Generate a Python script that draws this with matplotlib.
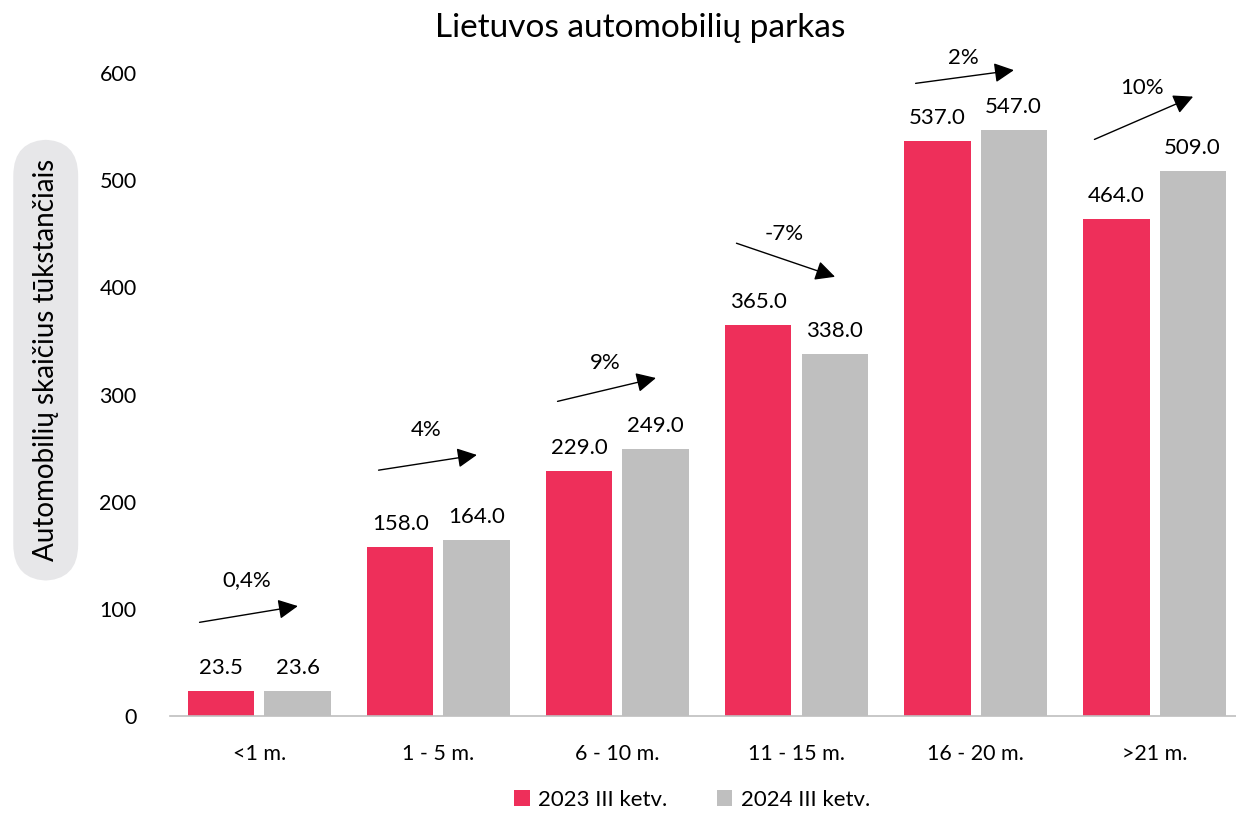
import numpy as np
import matplotlib.pyplot as plt

plt.rcParams['font.family'] = ['Lato', 'DejaVu Sans']

# Duomenys
categories = ['<1 m.', '1 - 5 m.', '6 - 10 m.', '11 - 15 m.', '16 - 20 m.', '>21 m.']
values_2023 = [23.5, 158.0, 229.0, 365.0, 537.0, 464.0]
values_2024 = [23.6, 164.0, 249.0, 338.0, 547.0, 509.0]
series_names = ['2023 III ketv.', '2024 III ketv.']
change_labels = ['0,4%', '4%', '9%', '-7%', '2%', '10%']

# rodyklių pradžia / pabaiga (y reikšmės) ir teksto aukštis
arrow_y0 = [87, 229, 293, 442, 590, 537]
arrow_y1 = [103, 244, 316, 409, 603, 579]
text_y = [127, 267, 329, 450, 614, 586]

red = '#ee2f5a'
gray = '#bfbfbf'

fig = plt.figure(figsize=(12.36, 8.13), dpi=100)
ax = fig.add_axes([0.1375, 0.1193, 0.869, 0.7909])

x = np.arange(len(categories))
w = 0.37
ax.bar(x - 0.213, values_2023, w, color=red, label=series_names[0])
ax.bar(x + 0.213, values_2024, w, color=gray, label=series_names[1])

for i in range(len(categories)):
    ax.text(x[i] - 0.213, values_2023[i] + 12, f'{values_2023[i]:.1f}', ha='center', va='bottom', fontsize=16)
    ax.text(x[i] + 0.213, values_2024[i] + 12, f'{values_2024[i]:.1f}', ha='center', va='bottom', fontsize=16)
    ax.annotate('', xy=(x[i] + 0.23, arrow_y1[i]), xytext=(x[i] - 0.35, arrow_y0[i]),
                arrowprops=dict(arrowstyle='-|>', color='black', lw=1.0, mutation_scale=30),
                annotation_clip=False)
    ax.text(x[i] - 0.07, text_y[i], change_labels[i], ha='center', va='center', fontsize=16)

ax.set_xlim(-0.5, len(categories) - 0.5)
ax.set_ylim(0, 600)
ax.set_yticks([0, 100, 200, 300, 400, 500, 600])
ax.set_xticks(x)
ax.set_xticklabels(categories)
ax.tick_params(axis='both', length=0, labelsize=15.5)
ax.tick_params(axis='y', pad=24)
ax.tick_params(axis='x', pad=20)

for s in ['top', 'right', 'left']:
    ax.spines[s].set_visible(False)
ax.spines['bottom'].set_color('#bfbfbf')
ax.spines['bottom'].set_linewidth(1.2)

fig.text(0.518, 0.966, 'Lietuvos automobilių parkas', ha='center', va='center', fontsize=24)

fig.text(0.037, 0.557, 'Automobilių skaičius tūkstančiais', rotation=90, ha='center', va='center',
         fontsize=20, bbox=dict(boxstyle='round,pad=0.7,rounding_size=1.3', fc='#e7e7e9', ec='none'))

fig.legend(loc='center', bbox_to_anchor=(0.56, 0.016), ncol=2, frameon=False, fontsize=16,
           handlelength=0.7, handleheight=0.7, handletextpad=0.4, columnspacing=2.2)

fig.savefig('out.png', dpi=100)
